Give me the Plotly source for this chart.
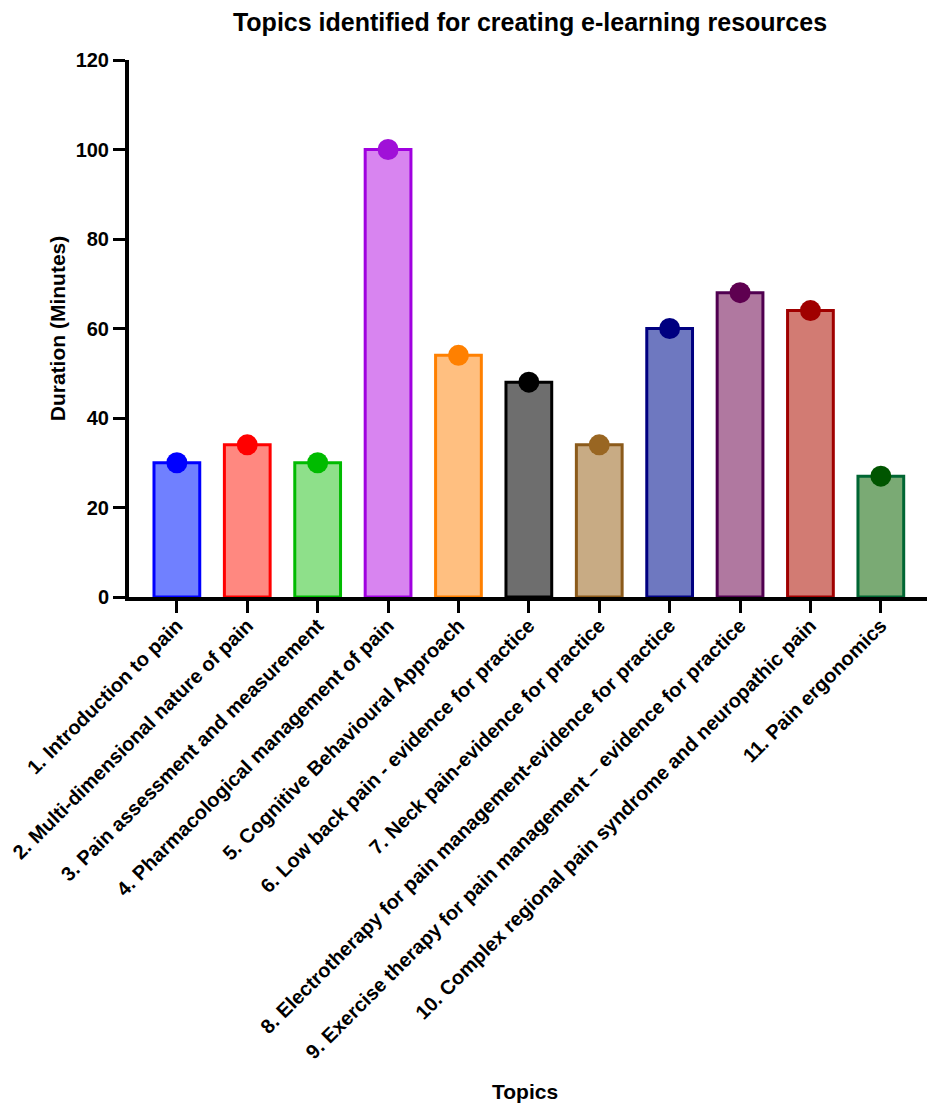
import plotly.graph_objects as go

# Data
topics = [
    '1. Introduction to pain',
    '2. Multi-dimensional nature of pain',
    '3. Pain assessment and measurement',
    '4. Pharmacological management of pain',
    '5. Cognitive Behavioural Approach',
    '6. Low back pain - evidence for practice',
    '7. Neck pain-evidence for practice',
    '8. Electrotherapy for pain management-evidence for practice',
    '9. Exercise therapy for pain management \u2013 evidence for practice',
    '10. Complex regional pain syndrome and neuropathic pain',
    '11. Pain ergonomics',
]
duration = [30, 34, 30, 100, 54, 48, 34, 60, 68, 64, 27]

# Colours for each bar
fill_colors = ['#7080FF', '#FF8880', '#8EE08A', '#D884F0', '#FFBF80', '#6E6E6E',
               '#C8AB84', '#6E78C0', '#B078A0', '#D27B73', '#7AAA74']
line_colors = ['#0000FF', '#FF0000', '#00BB00', '#A000E0', '#FF8000', '#000000',
               '#8B5A1A', '#000080', '#500050', '#A00000', '#006633']
dot_colors = ['#0000FF', '#FF0000', '#00BB00', '#A010D8', '#FF8000', '#000000',
              '#996622', '#000080', '#5E0050', '#A00000', '#005500']

font_family = 'Liberation Sans, Arial, sans-serif'

fig = go.Figure()

fig.add_trace(go.Bar(
    x=topics,
    y=duration,
    width=0.65,
    marker=dict(color=fill_colors, line=dict(color=line_colors, width=3)),
    showlegend=False,
))

fig.add_trace(go.Scatter(
    x=topics,
    y=duration,
    mode='markers',
    marker=dict(color=dot_colors, size=21),
    showlegend=False,
    cliponaxis=False,
))

# Layout (page has an 8px body margin, so the figure is a bit smaller than the window)
fig.update_layout(
    width=927,
    height=1102,
    plot_bgcolor='white',
    paper_bgcolor='white',
    margin=dict(l=121, r=7, t=52, b=513),
    font=dict(family=font_family, color='black'),
    title=dict(
        text='Topics identified for creating e-learning resources',
        font=dict(size=25, weight='bold', family=font_family),
        x=522 / 927,
        xanchor='center',
        y=1 - 14 / 1102,
        yanchor='middle',
    ),
)

# x axis title as an annotation so it sits below the long labels
fig.add_annotation(
    text='Topics',
    xref='paper', yref='paper',
    x=0.495, y=-0.92,
    xanchor='center', yanchor='middle',
    showarrow=False,
    font=dict(size=21, weight='bold'),
)

fig.update_xaxes(
    range=[-0.68, 10.67],
    automargin=False,
    showline=True,
    linecolor='black',
    linewidth=4,
    ticks='outside',
    ticklen=12,
    tickwidth=3,
    tickcolor='black',
    tickangle=-45,
    ticklabelstandoff=-7,
    tickfont=dict(size=20, weight='bold'),
    showgrid=False,
)

fig.update_yaxes(
    range=[0, 120],
    automargin=False,
    tickvals=[0, 20, 40, 60, 80, 100, 120],
    showline=True,
    linecolor='black',
    linewidth=4,
    ticks='outside',
    ticklen=12,
    tickwidth=3,
    tickcolor='black',
    tickfont=dict(size=20, weight='bold'),
    showgrid=False,
    zeroline=False,
    title=dict(text='Duration (Minutes)', font=dict(size=21, weight='bold'), standoff=5),
)

fig.write_html('out.html')
